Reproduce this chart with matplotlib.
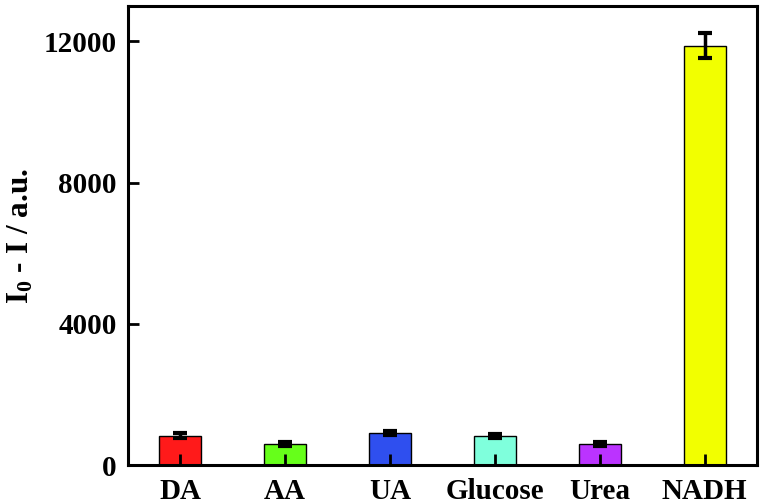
import matplotlib
matplotlib.use('Agg')
import matplotlib.pyplot as plt
import numpy as np

# data
labels = ['DA', 'AA', 'UA', 'Glucose', 'Urea', 'NADH']
values = [840, 600, 905, 820, 600, 11880]
errors = [60, 50, 60, 50, 50, 360]
colors = ['#ff1a1a', '#66ff1a', '#2f4fef', '#7fffdc', '#bb33ff', '#f2ff00']

plt.rcParams['font.family'] = ['Liberation Serif', 'DejaVu Serif']
plt.rcParams['font.weight'] = 'bold'
plt.rcParams['mathtext.fontset'] = 'custom'
plt.rcParams['mathtext.rm'] = 'Liberation Serif:bold'
plt.rcParams['mathtext.it'] = 'Liberation Serif:bold'

fig = plt.figure(figsize=(7.61, 5.04), dpi=100)
ax = fig.add_axes([0.168, 0.077, 0.827, 0.911])

x = np.arange(1, len(labels) + 1)
ax.bar(x, values, width=0.4, color=colors, edgecolor='black', linewidth=1.0,
       yerr=errors, error_kw=dict(ecolor='black', elinewidth=2.5, capsize=5, capthick=3))

ax.set_xlim(0.5, 6.5)
ax.set_ylim(0, 13000)
ax.set_xticks(x)
ax.set_xticklabels(labels, fontsize=21, fontweight='bold')
ax.set_yticks([0, 4000, 8000, 12000])
ax.set_yticklabels(['0', '4000', '8000', '12000'], fontsize=21, fontweight='bold')
ax.tick_params(direction='in', length=8, width=2, pad=8)
ax.tick_params(axis='x', pad=9)
for s in ax.spines.values():
    s.set_linewidth(2.2)

ax.set_ylabel(r'I$_0$ - I / a.u.', fontsize=22.5, fontweight='bold', labelpad=6)

fig.savefig('out.png', dpi=100)
